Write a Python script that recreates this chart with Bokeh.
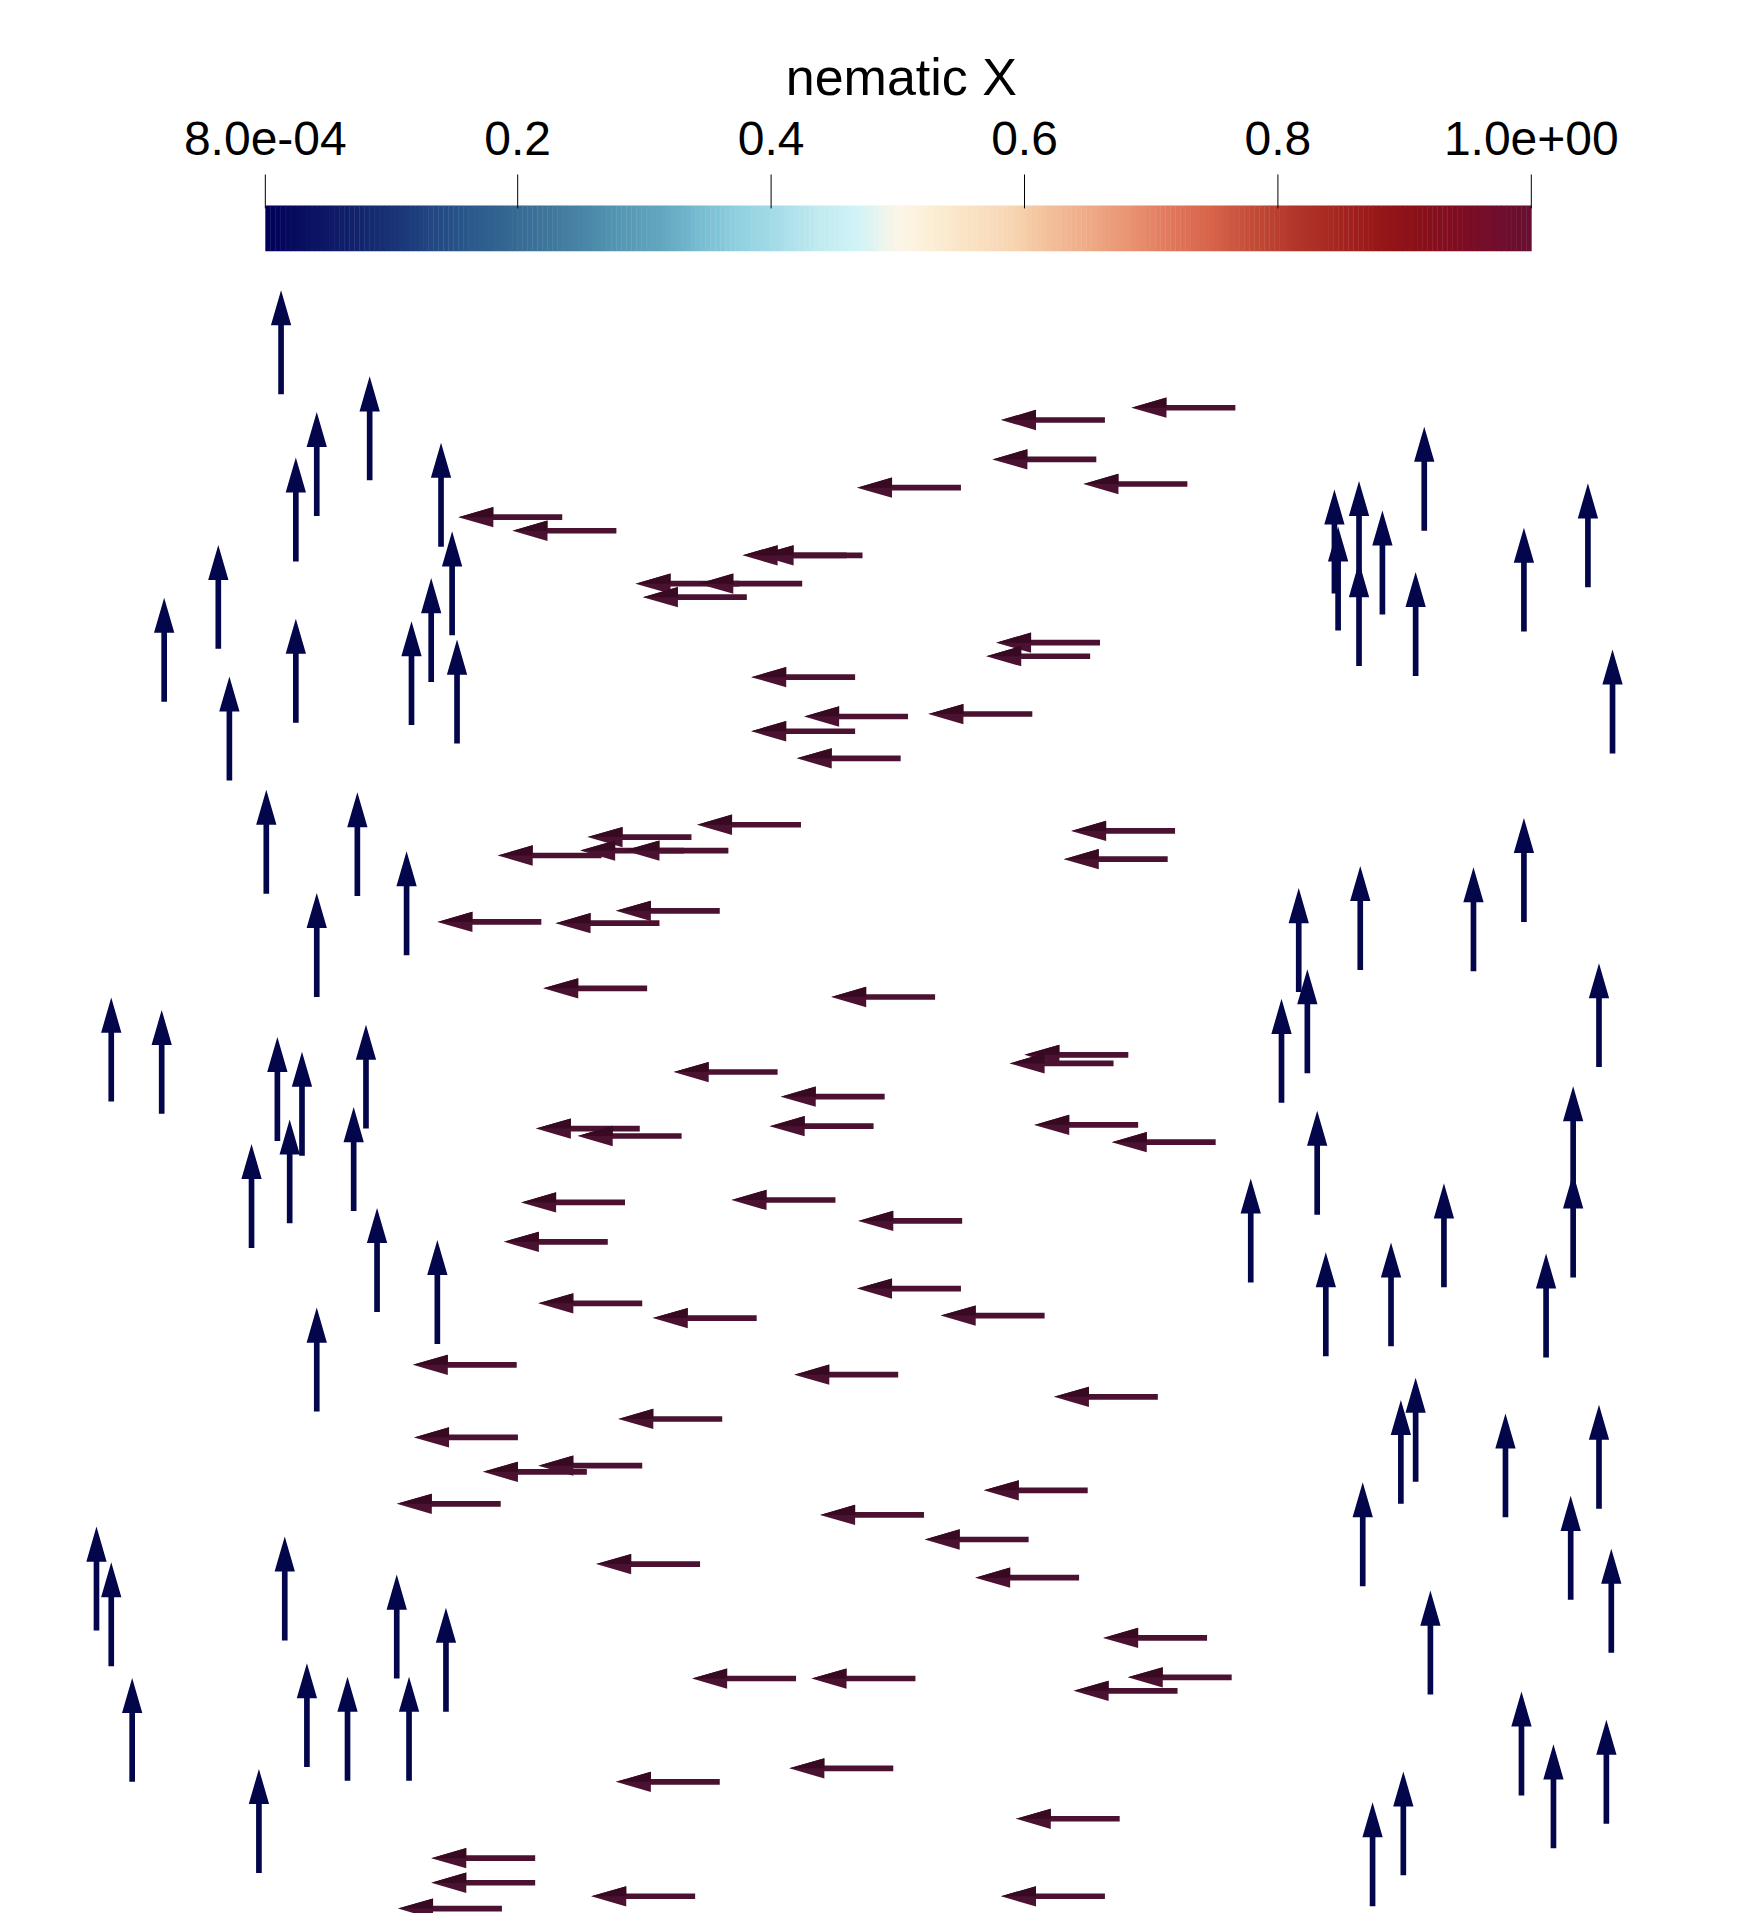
import numpy as np
from bokeh.plotting import figure
from bokeh.models import Range1d
from bokeh.core.properties import value
from bokeh.embed import file_html
from bokeh.resources import INLINE

# ---------------- data ----------------
# up-pointing glyphs: base point (x, y) in view units (y grows downward)
up_x = [228, 300, 257, 240, 358, 367, 177, 350, 133, 240, 334, 371, 186, 216, 290, 330, 257, 90, 131,
        225, 297, 245, 235, 287, 204, 306, 355, 257, 78, 90, 231, 322, 362, 107, 249, 282, 332, 210,
        1157, 1084, 1087, 1104, 1123, 1104, 1150, 1290, 1238, 1310, 1238, 1055, 1105, 1197, 1062, 1041,
        1299, 1070, 1278, 1278, 1016, 1173, 1077, 1130, 1256, 1150, 1138, 1223, 1299, 1107, 1276, 1309,
        1162, 1236, 1262, 1305, 1140, 1115]
up_y = [320, 390, 419, 456, 444, 516, 527, 554, 570, 587, 589, 604, 634, 726, 728, 776, 810, 895, 905,
        927, 917, 939, 994, 984, 1014, 1066, 1092, 1147, 1325, 1354, 1333, 1364, 1391, 1448, 1436, 1447,
        1447, 1522,
        431, 482, 512, 475, 499, 541, 549, 477, 513, 612, 749, 806, 788, 789, 872, 896, 867, 987, 967,
        1038, 1042, 1046, 1102, 1094, 1103, 1204, 1222, 1233, 1226, 1289, 1300, 1343, 1377, 1459, 1502,
        1482, 1524, 1549]
up_nematic = [0.0008] * len(up_x)

# left-pointing glyphs: tip x and y (base = tip + glyph length)
left_tip_x = [919, 813, 806, 880, 696, 372, 416, 603, 616, 516, 567, 522, 809, 801, 610, 653, 754, 610,
              647, 566, 870, 477, 507, 404, 471, 864, 500, 355, 451, 441, 675, 832, 820, 547, 634, 435,
              469, 625, 840, 903, 423, 594, 409, 697, 437, 696, 530, 764, 335, 645, 856, 502, 336, 437,
              392, 322, 799, 666, 751, 484, 792, 896, 562, 659, 916, 872, 641, 500, 825, 350, 350, 323,
              480, 813]
left_y = [331, 341, 373, 393, 396, 420, 431, 451, 451, 474, 474, 485, 522, 533, 550, 582, 580, 594,
          616, 670, 675, 680, 691, 695, 691, 698, 740, 749, 750, 803, 810, 857, 864, 871, 891, 917,
          923, 915, 914, 928, 977, 975, 1009, 992, 1059, 1047, 1071, 1069, 1109, 1117, 1135, 1153, 1168,
          1191, 1196, 1222, 1211, 1231, 1251, 1271, 1282, 1331, 1364, 1364, 1363, 1374, 1437, 1448,
          1478, 1510, 1530, 1551, 1541, 1541]
left_nematic = [1.0] * len(left_tip_x)

cb_title = "nematic X"
cb_min, cb_max = 0.0008, 1.0
cb_ticks = [0.0008, 0.2, 0.4, 0.6, 0.8, 1.0]
cb_labels = ["8.0e-04", "0.2", "0.4", "0.6", "0.8", "1.0e+00"]

# ---------------- styles ----------------
cmap_pts = [
    (0.0, (0.0, 0.0, 0.349)), (0.03125, (0.039, 0.063, 0.380)), (0.0625, (0.063, 0.118, 0.412)),
    (0.09375, (0.090, 0.184, 0.451)), (0.125, (0.125, 0.263, 0.502)), (0.15625, (0.161, 0.337, 0.541)),
    (0.1875, (0.2, 0.396, 0.569)), (0.21875, (0.239, 0.455, 0.6)), (0.25, (0.286, 0.522, 0.651)),
    (0.28125, (0.337, 0.592, 0.702)), (0.3125, (0.388, 0.655, 0.749)), (0.34375, (0.467, 0.737, 0.820)),
    (0.375, (0.573, 0.820, 0.878)), (0.40625, (0.655, 0.867, 0.910)), (0.4375, (0.753, 0.918, 0.941)),
    (0.46875, (0.824, 0.957, 0.969)), (0.5, (0.988, 0.961, 0.902)), (0.52, (0.988, 0.945, 0.851)),
    (0.55, (0.980, 0.898, 0.784)), (0.59, (0.969, 0.835, 0.698)), (0.625, (0.949, 0.733, 0.588)),
    (0.65625, (0.929, 0.651, 0.510)), (0.6875, (0.910, 0.565, 0.435)), (0.71875, (0.878, 0.459, 0.353)),
    (0.75, (0.839, 0.388, 0.286)), (0.78125, (0.761, 0.294, 0.212)), (0.8125, (0.702, 0.212, 0.169)),
    (0.84375, (0.651, 0.157, 0.129)), (0.875, (0.6, 0.094, 0.094)), (0.90625, (0.549, 0.067, 0.098)),
    (0.9375, (0.502, 0.051, 0.125)), (0.96875, (0.451, 0.055, 0.173)), (1.0, (0.4, 0.055, 0.192)),
]
cp = np.array([c[0] for c in cmap_pts])
cc = np.array([c[1] for c in cmap_pts])


def cmap(t):
    r = np.interp(t, cp, cc[:, 0]); g = np.interp(t, cp, cc[:, 1]); b = np.interp(t, cp, cc[:, 2])
    return "#%02x%02x%02x" % (int(round(r * 255)), int(round(g * 255)), int(round(b * 255)))


FONT = "Liberation Sans, Arial, sans-serif"
SX, SY = 1756 / 1427, 1929 / 1568
W, H = 1740, 1913

p = figure(width=W, height=H, output_backend="svg", toolbar_location=None,
           x_range=Range1d(0, W / SX), y_range=Range1d(H / SY, 0),
           min_border=0, background_fill_color="white", border_fill_color="white")
p.axis.visible = False
p.grid.visible = False
p.outline_line_color = None

# ---------------- glyphs ----------------
L, HL, HW, SW = 84.5, 28.5, 16.5, 4.6


def arrow_polys(bx, by, dx, dy):
    xs, ys, hx, hy = [], [], [], []
    for x0, y0 in zip(bx, by):
        nx, ny = -dy, dx
        bxp, byp = x0 + dx * (L - HL), y0 + dy * (L - HL)
        tx, ty = x0 + dx * L, y0 + dy * L
        pts = [(x0 + nx * SW / 2, y0 + ny * SW / 2), (bxp + nx * SW / 2, byp + ny * SW / 2),
               (bxp + nx * HW / 2, byp + ny * HW / 2), (tx, ty),
               (bxp - nx * HW / 2, byp - ny * HW / 2), (bxp - nx * SW / 2, byp - ny * SW / 2),
               (x0 - nx * SW / 2, y0 - ny * SW / 2)]
        xs.append([q[0] for q in pts]); ys.append([q[1] for q in pts])
        hx.append([tx, bxp + nx * HW / 2, bxp]); hy.append([ty, byp + ny * HW / 2, byp])
    return xs, ys, hx, hy


def glyph_color(v):
    return "#03064a" if v < 0.5 else "#4a1230"


def glyph_shade(v):
    return "#020437" if v < 0.5 else "#370a22"


# up arrows
uxs, uys, uhx, uhy = arrow_polys(up_x, up_y, 0.0, -1.0)
p.patches(uxs, uys, fill_color=[glyph_color(v) for v in up_nematic], line_color=None)

# left arrows (base = tip + length)
left_base_x = [t + L for t in left_tip_x]
lxs, lys, lhx, lhy = arrow_polys(left_base_x, left_y, -1.0, 0.0)
p.patches(lxs, lys, fill_color=[glyph_color(v) for v in left_nematic], line_color=None)
p.patches(lhx, lhy, fill_color=[glyph_shade(v) for v in left_nematic], line_color=None)

# ---------------- colour bar ----------------
bar_x0, bar_x1 = 215.2, 1244.0
bar_y0, bar_y1 = 166.6, 203.8
N = 256
edges = np.linspace(bar_x0, bar_x1, N + 1)
p.quad(left=edges[:-1], right=edges[1:] + 0.3, top=bar_y0, bottom=bar_y1,
       fill_color=[cmap((i + 0.5) / N) for i in range(N)], line_color=None)


def cb_pos(v):
    return bar_x0 + (v - cb_min) / (cb_max - cb_min) * (bar_x1 - bar_x0)


tx = [cb_pos(v) for v in cb_ticks]
p.segment(x0=tx, y0=[141.4] * len(tx), x1=tx, y1=[169.0] * len(tx), line_color="black", line_width=1)
p.text(x=tx, y=[112.4] * len(tx), text=cb_labels, text_align="center", text_baseline="alphabetic",
       text_font=value(FONT), text_font_size=value("48px"), text_color="black")
p.text(x=[(bar_x0 + bar_x1) / 2 + 2.5], y=[62.5], text=[cb_title], text_align="center",
       text_baseline="alphabetic", text_font=value(FONT), text_font_size=value("52px"), text_color="black")

open("out.html", "w").write(file_html(p, INLINE))
